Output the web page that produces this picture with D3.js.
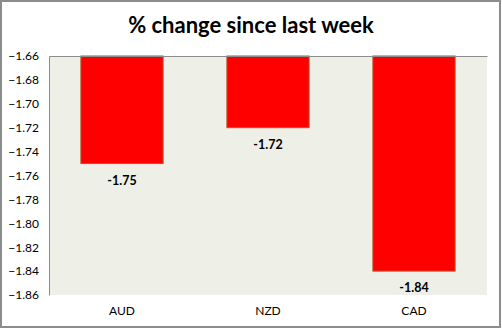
<!DOCTYPE html>
<html>
<head>
<meta charset="utf-8">
<script src="https://cdn.jsdelivr.net/npm/d3@7"></script>
<style>
  html, body { margin: 0; padding: 0; background: #fff; }
  svg { display: block; }
</style>
</head>
<body>
<script>
// Weekly % change per currency
const categories = ["AUD", "NZD", "CAD"];
const values = [-1.75, -1.72, -1.84];
const tickValues = [-1.66, -1.68, -1.70, -1.72, -1.74, -1.76, -1.78, -1.80, -1.82, -1.84, -1.86];
const title = "% change since last week";

const W = 502, H = 329;
const plot = { left: 49, right: 487, top: 56, bottom: 295 };

const svg = d3.select("body").append("svg")
  .attr("width", W).attr("height", H);

// chart frame
svg.append("rect")
  .attr("x", 1).attr("y", 1).attr("width", W - 3).attr("height", H - 3)
  .attr("fill", "#fff").attr("stroke", "#8c8c8c").attr("stroke-width", 2);

svg.append("text")
  .attr("x", 251).attr("y", 33)
  .attr("text-anchor", "middle")
  .attr("font-family", "Lato, 'Open Sans', sans-serif")
  .attr("font-weight", "bold")
  .attr("font-size", 22)
  .attr("fill", "#000")
  .text(title);

const x = d3.scaleBand()
  .domain(categories)
  .range([plot.left, plot.right])
  .paddingInner(0.43)
  .paddingOuter(0.215);

const y = d3.scaleLinear()
  .domain([-1.66, -1.86])
  .range([plot.top, plot.bottom]);

// plot background
svg.append("rect")
  .attr("x", plot.left).attr("y", plot.top)
  .attr("width", plot.right - plot.left).attr("height", plot.bottom - plot.top)
  .attr("fill", "#eef0e8");

// bars hang down from the -1.66 baseline
svg.append("g").selectAll("rect")
  .data(values)
  .join("rect")
  .attr("x", (d, i) => x(categories[i]) + 0.5)
  .attr("y", y(-1.66))
  .attr("width", x.bandwidth() - 1)
  .attr("height", d => y(d) - y(-1.66))
  .attr("fill", "#ff0000")
  .attr("stroke", "#b4552d")
  .attr("stroke-width", 1);

// value labels
svg.append("g").selectAll("text")
  .data(values)
  .join("text")
  .attr("x", (d, i) => x(categories[i]) + x.bandwidth() / 2)
  .attr("y", d => y(d) + 21)
  .attr("text-anchor", "middle")
  .attr("font-family", "Lato, 'Open Sans', sans-serif")
  .attr("font-weight", "bold")
  .attr("font-size", 12.5)
  .attr("fill", "#000")
  .text(d => d.toFixed(2));

// y axis
const yAxis = d3.axisLeft(y)
  .tickValues(tickValues)
  .tickFormat(d3.format(".2f"))
  .tickSize(0)
  .tickPadding(10);
const gy = svg.append("g")
  .attr("transform", `translate(${plot.left},0)`)
  .call(yAxis);
gy.select(".domain").attr("stroke", "#8c8c8c");
gy.selectAll("text")
  .attr("font-family", "Lato, 'Open Sans', sans-serif")
  .attr("font-size", 12)
  .attr("fill", "#000");

// category axis sits at the top of the plot (value axis crosses at -1.66)
const xAxis = d3.axisTop(x).tickSize(0).tickFormat("");
const gx = svg.append("g")
  .attr("transform", `translate(0,${plot.top})`)
  .call(xAxis);
gx.select(".domain").attr("stroke", "#8c8c8c");

// category labels below the plot
svg.append("g").selectAll("text")
  .data(categories)
  .join("text")
  .attr("x", d => x(d) + x.bandwidth() / 2)
  .attr("y", 315)
  .attr("text-anchor", "middle")
  .attr("font-family", "Lato, 'Open Sans', sans-serif")
  .attr("font-size", 12)
  .attr("fill", "#000")
  .text(d => d);
</script>
</body>
</html>
